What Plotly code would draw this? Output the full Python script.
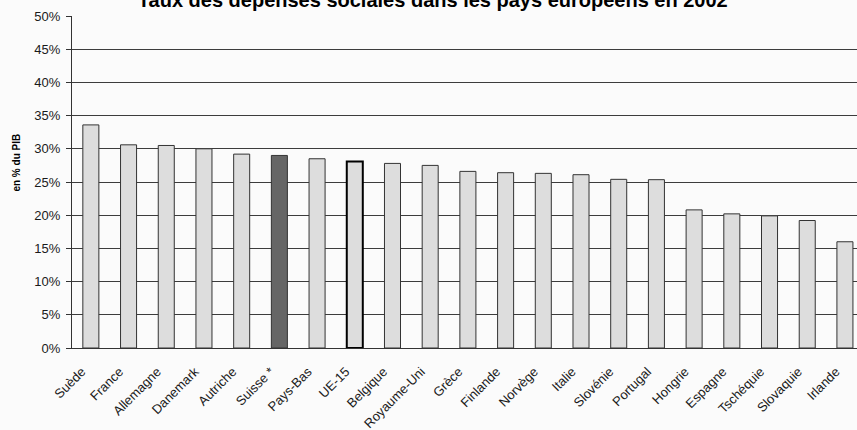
import plotly.graph_objects as go

countries = ["Suède", "France", "Allemagne", "Danemark", "Autriche", "Suisse *",
             "Pays-Bas", "UE-15", "Belgique", "Royaume-Uni", "Grèce", "Finlande",
             "Norvège", "Italie", "Slovénie", "Portugal", "Hongrie", "Espagne",
             "Tschéquie", "Slovaquie", "Irlande"]
values = [33.6, 30.6, 30.5, 30.0, 29.2, 29.0,
          28.5, 28.1, 27.8, 27.5, 26.6, 26.4,
          26.3, 26.1, 25.4, 25.35, 20.8, 20.2,
          19.9, 19.2, 16.0]
y_ticks = [0, 5, 10, 15, 20, 25, 30, 35, 40, 45, 50]

title_text = "Taux des dépenses sociales dans les pays européens en 2002"
y_title = "en % du PIB"

fills = []
lines_c = []
lines_w = []
for c in countries:
    if c == "Suisse *":
        fills.append("#666666"); lines_c.append("#333333"); lines_w.append(1)
    elif c == "UE-15":
        fills.append("#dddddd"); lines_c.append("#000000"); lines_w.append(2)
    else:
        fills.append("#dddddd"); lines_c.append("#333333"); lines_w.append(1)

fig = go.Figure(go.Bar(
    x=countries, y=values,
    marker=dict(color=fills, line=dict(color=lines_c, width=lines_w)),
    hoverinfo="x+y",
))

fig.update_layout(
    width=857, height=430,
    margin=dict(l=72, r=0, t=16, b=82),
    paper_bgcolor="#fbfbfb", plot_bgcolor="#fbfbfb",
    bargap=0.575,
    showlegend=False,
    font=dict(family="Arial, Liberation Sans, sans-serif", color="#1a1a1a", size=13),
    title=dict(text="<b>" + title_text + "</b>", x=0.505, xanchor="center",
               y=1.0, yanchor="middle", yref="container",
               font=dict(size=20, color="#000000")),
)
fig.add_annotation(
    text="<b>" + y_title + "</b>", textangle=-90,
    xref="paper", yref="paper", x=-0.0707, y=0.557,
    xanchor="center", yanchor="middle", showarrow=False,
    font=dict(family="Liberation Sans Narrow, Arial Narrow, Arial, sans-serif",
              size=10, color="#000000"),
)
fig.update_xaxes(
    type="category", range=[-0.5, 20.32], tickangle=-45,
    showline=True, linecolor="#333333", linewidth=1,
    ticks="", showgrid=False,
    ticklabelstandoff=10, ticklabelshift=-9,
    tickfont=dict(size=13, color="#1a1a1a"),
)
fig.update_yaxes(
    range=[0, 50], tickvals=y_ticks, ticktext=[f"{v}%" for v in y_ticks],
    showgrid=True, gridcolor="#3c3c3c", gridwidth=1,
    showline=True, linecolor="#333333", linewidth=1,
    ticks="outside", ticklen=5, tickcolor="#333333",
    ticklabelstandoff=3,
    tickfont=dict(size=13, color="#1a1a1a"),
    zeroline=False,
)

fig.write_html("out.html")
